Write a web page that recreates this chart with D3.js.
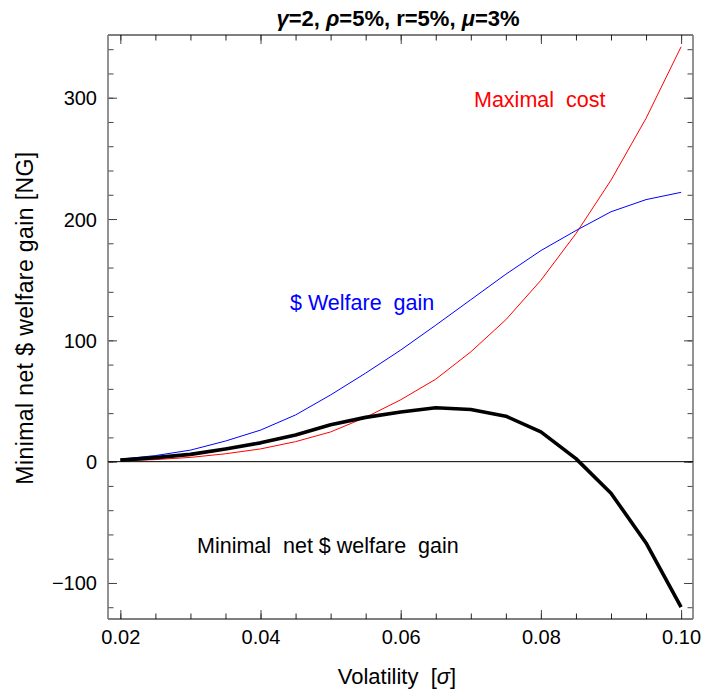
<!DOCTYPE html>
<html>
<head>
<meta charset="utf-8">
<script src="https://cdn.jsdelivr.net/npm/d3@7"></script>
<style>
  html, body { margin: 0; padding: 0; background: #fff; }
  svg { display: block; font-family: "Liberation Sans", Arial, sans-serif; }
</style>
</head>
<body>
<svg id="chart" width="701" height="694"></svg>
<script>
// Volatility grid (sigma)
const sigma = [0.02, 0.025, 0.03, 0.035, 0.04, 0.045, 0.05, 0.055, 0.06,
               0.065, 0.07, 0.075, 0.08, 0.085, 0.09, 0.095, 0.10];
// $ welfare gain
const welfareGain = [2, 5, 9.5, 17, 26, 38.5, 55, 73, 92, 112.5, 133.5,
                     154.5, 174, 190.5, 206, 216, 222];
// Maximal cost
const maximalCost = [0.7, 1.7, 3.5, 6.5, 10.5, 16.5, 24.5, 36.5, 51, 68,
                     90.5, 117, 149.5, 188, 232, 283, 342];
// Minimal net $ welfare gain
const netGain = [1.3, 3.3, 6, 10.5, 15.5, 22, 30.5, 36.5, 41, 44.5, 43,
                 37.5, 24.5, 2.5, -26, -67, -120];

const xMajorTicks = [0.02, 0.04, 0.06, 0.08, 0.10];
const xTickLabels = ["0.02", "0.04", "0.06", "0.08", "0.10"];
const xMinorTicks = d3.range(0.02, 0.1001, 0.005);
const yMajorTicks = [-100, 0, 100, 200, 300];
const yTickLabels = ["\u2212100", "0", "100", "200", "300"];
const yMinorTicks = d3.range(-120, 341, 20);

const svg = d3.select("#chart");
const frameL = 108, frameR = 693, frameT = 35, frameB = 619;

const x = d3.scaleLinear().domain([0.01824, 0.1017]).range([frameL, frameR]);
const y = d3.scaleLinear().domain([-129.7, 351.7]).range([frameB, frameT]);

const FONT = "Liberation Sans, Arial, sans-serif";

// ---- ticks on all four sides (pointing inward) ----
function styleTicks(g, color) {
  g.select(".domain").remove();
  g.selectAll(".tick line").attr("stroke", color).attr("stroke-width", 1);
}

// bottom
const gxMinor = svg.append("g").attr("transform", `translate(0,${frameB})`)
  .call(d3.axisBottom(x).tickValues(xMinorTicks).tickSize(-5.5).tickFormat(""));
styleTicks(gxMinor, "#222");
const gx = svg.append("g").attr("transform", `translate(0,${frameB})`)
  .call(d3.axisBottom(x).tickValues(xMajorTicks).tickSize(-9)
        .tickFormat((d, i) => xTickLabels[i]));
styleTicks(gx, "#444");
gx.selectAll(".tick text")
  .attr("y", 25).attr("dy", 0)
  .attr("fill", "#000")
  .style("font-family", FONT).style("font-size", "20px");

// top
const gtMinor = svg.append("g").attr("transform", `translate(0,${frameT})`)
  .call(d3.axisTop(x).tickValues(xMinorTicks).tickSize(-5.5).tickFormat(""));
styleTicks(gtMinor, "#222");
const gt = svg.append("g").attr("transform", `translate(0,${frameT})`)
  .call(d3.axisTop(x).tickValues(xMajorTicks).tickSize(-9).tickFormat(""));
styleTicks(gt, "#444");

// left
const gyMinor = svg.append("g").attr("transform", `translate(${frameL},0)`)
  .call(d3.axisLeft(y).tickValues(yMinorTicks).tickSize(-5.5).tickFormat(""));
styleTicks(gyMinor, "#444");
const gy = svg.append("g").attr("transform", `translate(${frameL},0)`)
  .call(d3.axisLeft(y).tickValues(yMajorTicks).tickSize(-9)
        .tickFormat((d, i) => yTickLabels[i]));
styleTicks(gy, "#444");
gy.selectAll(".tick text")
  .attr("x", -11).attr("dy", "0.35em")
  .attr("fill", "#000")
  .style("font-family", FONT).style("font-size", "20px");

// right
const grMinor = svg.append("g").attr("transform", `translate(${frameR},0)`)
  .call(d3.axisRight(y).tickValues(yMinorTicks).tickSize(-5.5).tickFormat(""));
styleTicks(grMinor, "#444");
const gr = svg.append("g").attr("transform", `translate(${frameR},0)`)
  .call(d3.axisRight(y).tickValues(yMajorTicks).tickSize(-9).tickFormat(""));
styleTicks(gr, "#444");

// ---- frame ----
svg.append("line").attr("x1", frameL).attr("x2", frameR).attr("y1", frameT).attr("y2", frameT)
  .attr("stroke", "#000").attr("stroke-width", 1.2);
svg.append("line").attr("x1", frameL).attr("x2", frameR).attr("y1", frameB).attr("y2", frameB)
  .attr("stroke", "#000").attr("stroke-width", 1.2);
svg.append("line").attr("x1", frameL).attr("x2", frameL).attr("y1", frameT).attr("y2", frameB)
  .attr("stroke", "#777").attr("stroke-width", 1.6);
svg.append("line").attr("x1", frameR).attr("x2", frameR).attr("y1", frameT).attr("y2", frameB)
  .attr("stroke", "#777").attr("stroke-width", 1.6);

// zero line
svg.append("line").attr("x1", frameL).attr("x2", frameR)
  .attr("y1", y(0)).attr("y2", y(0))
  .attr("stroke", "#000").attr("stroke-width", 1);

// ---- curves ----
const line = d3.line().x((d, i) => x(sigma[i])).y(d => y(d));
svg.append("path").datum(maximalCost).attr("d", line)
  .attr("fill", "none").attr("stroke", "#ff0000").attr("stroke-width", 1);
svg.append("path").datum(welfareGain).attr("d", line)
  .attr("fill", "none").attr("stroke", "#0000ff").attr("stroke-width", 1);
svg.append("path").datum(netGain).attr("d", line)
  .attr("fill", "none").attr("stroke", "#000").attr("stroke-width", 3.6)
  .attr("stroke-linejoin", "round");

// ---- annotations ----
function note(txt, px, py, color) {
  svg.append("text").attr("x", px).attr("y", py)
    .attr("fill", color)
    .style("font-family", FONT).style("font-size", "21.5px")
    .style("white-space", "pre")
    .text(txt);
}
note("Maximal  cost", 474, 107, "#ff0000");
note("$ Welfare  gain", 290, 310, "#0000ff");
note("Minimal  net $ welfare  gain", 197, 553, "#000");

// ---- title ----
const title = svg.append("text").attr("x", 398).attr("y", 26)
  .attr("text-anchor", "middle")
  .style("font-family", FONT).style("font-size", "22px");
[["\u03B3", true], ["=2, ", false], ["\u03C1", true], ["=5%, r=5%, ", false],
 ["\u03BC", true], ["=3%", false]].forEach(([t, greek]) => {
  title.append("tspan").text(t)
    .style("font-weight", "bold")
    .style("font-style", greek ? "italic" : "normal")
    .style("white-space", "pre");
});

// ---- axis labels ----
const xl = svg.append("text").attr("x", 397).attr("y", 684)
  .attr("text-anchor", "middle")
  .style("font-family", FONT).style("font-size", "22px")
  .style("white-space", "pre");
xl.append("tspan").text("Volatility  [");
xl.append("tspan").text("\u03C3").style("font-style", "italic");
xl.append("tspan").text("]");

svg.append("text")
  .attr("transform", "translate(33,318) rotate(-90)")
  .attr("text-anchor", "middle")
  .style("font-family", FONT).style("font-size", "23px")
  .style("letter-spacing", "0.4px")
  .text("Minimal net $ welfare gain [NG]");
</script>
</body>
</html>
